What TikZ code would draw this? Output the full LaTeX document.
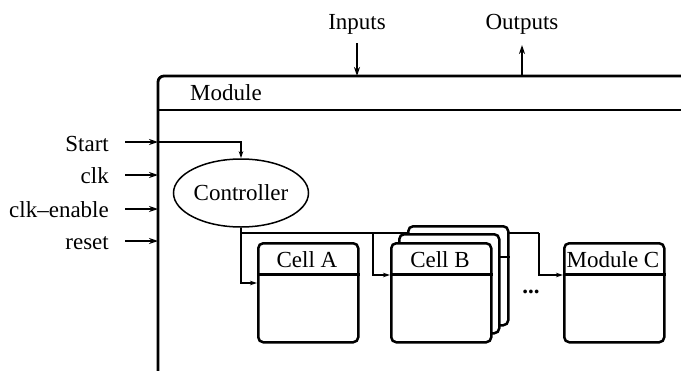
\documentclass[tikz,border=0pt]{standalone}
\usepackage{fontspec}
\setmainfont{Liberation Serif}
\usetikzlibrary{arrows.meta,shapes.geometric}
\begin{document}
\begin{tikzpicture}[x=1pt,y=-1pt, font=\rmfamily\fontsize{23}{27}\selectfont,
  thinline/.style={line width=1.1pt},
  tip/.style={-{Stealth[length=7pt,width=4.5pt]}},
  bigtip/.style={-{Stealth[length=9pt,width=6pt]}, line width=2.6pt},
  frame/.style={line width=2.8pt},
  cellbox/.style={draw, line width=2.5pt, rounded corners=5pt, fill=white,
    minimum width=100pt, minimum height=99pt, anchor=north west, inner sep=0pt},
  txt/.style={inner sep=0pt},
  lbl/.style={anchor=base east, inner sep=0pt}]
\clip (0,0) rectangle (681,370);
% module frame
\coordinate (mBL) at (158,380);
\coordinate (mTL) at (158,76);
\coordinate (mTR) at (700,76);
\draw[frame, rounded corners=6pt] (mBL) -- (mTL) -- (mTR);
\coordinate (hL) at (158,110);
\coordinate (hR) at (700,110);
\draw[frame] (hL) -- (hR);
\node[txt, anchor=base west] (modlbl) at (190,100) {Module};
% inputs / outputs
\node[txt, anchor=base] (in) at (357,29) {Inputs};
\node[txt, anchor=base] (out) at (522,29) {Outputs};
\coordinate (inS) at (357,43);
\coordinate (inE) at (357,76);
\coordinate (outS) at (522,76);
\coordinate (outE) at (522,45);
\draw[bigtip] (inS) -- (inE);
\draw[bigtip] (outS) -- (outE);
% left signals
\node[lbl] (start) at (109,151) {Start};
\node[lbl] (clk) at (109,183) {clk};
\node[lbl] (clken) at (109,217) {clk\textendash enable};
\node[lbl] (reset) at (109,249) {reset};
\coordinate (s0) at (125,142); \coordinate (s1) at (158,142);
\coordinate (c0) at (125,175); \coordinate (c1) at (158,175);
\coordinate (e0) at (125,209); \coordinate (e1) at (158,209);
\coordinate (r0) at (125,241); \coordinate (r1) at (158,241);
\draw[bigtip] (s0) -- (s1);
\draw[bigtip] (c0) -- (c1);
\draw[bigtip] (e0) -- (e1);
\draw[bigtip] (r0) -- (r1);
% controller
\node[ellipse, draw, line width=1.5pt, minimum width=135pt, minimum height=68pt, inner sep=0pt] (ctrl) at (241,193) {Controller};
\draw[thinline, tip] (s1) -| (ctrl.north);
% bus
\coordinate (bus) at (241,233);
\coordinate (j1) at (373,233);
\coordinate (j2) at (539,233);
\draw[thinline] (bus) -- (j2);
% cells
\node[cellbox] (A) at (257,242) {};
\node[cellbox] (B3) at (407,225) {};
\draw[line width=2.5pt] ([yshift=-32pt]B3.north west) -- ([yshift=-32pt]B3.north east);
\node[cellbox] (B2) at (398,233) {};
\node[cellbox] (B) at (390,242) {};
\node[cellbox] (C) at (563,242) {};
\foreach \n in {A,B,C}{
  \draw[line width=2.5pt] ([yshift=-32.5pt]\n.north west) -- ([yshift=-32.5pt]\n.north east);
}
\node[txt, anchor=base] (At) at (307,267) {Cell A};
\node[txt, anchor=base] (Bt) at (440,267) {Cell B};
\node[txt, anchor=base] (Ct) at (613,267) {Module C};
\node[txt, anchor=base] (dots) at (531,293) {\textbf{...}};
% connectors to cells
\draw[thinline, tip] (ctrl.south) |- ([yshift=-41pt]A.north west);
\draw[thinline, tip] (j1) |- ([yshift=-33pt]B.north west);
\draw[thinline, tip] (j2) |- ([yshift=-33pt]C.north west);
\end{tikzpicture}
\end{document}
